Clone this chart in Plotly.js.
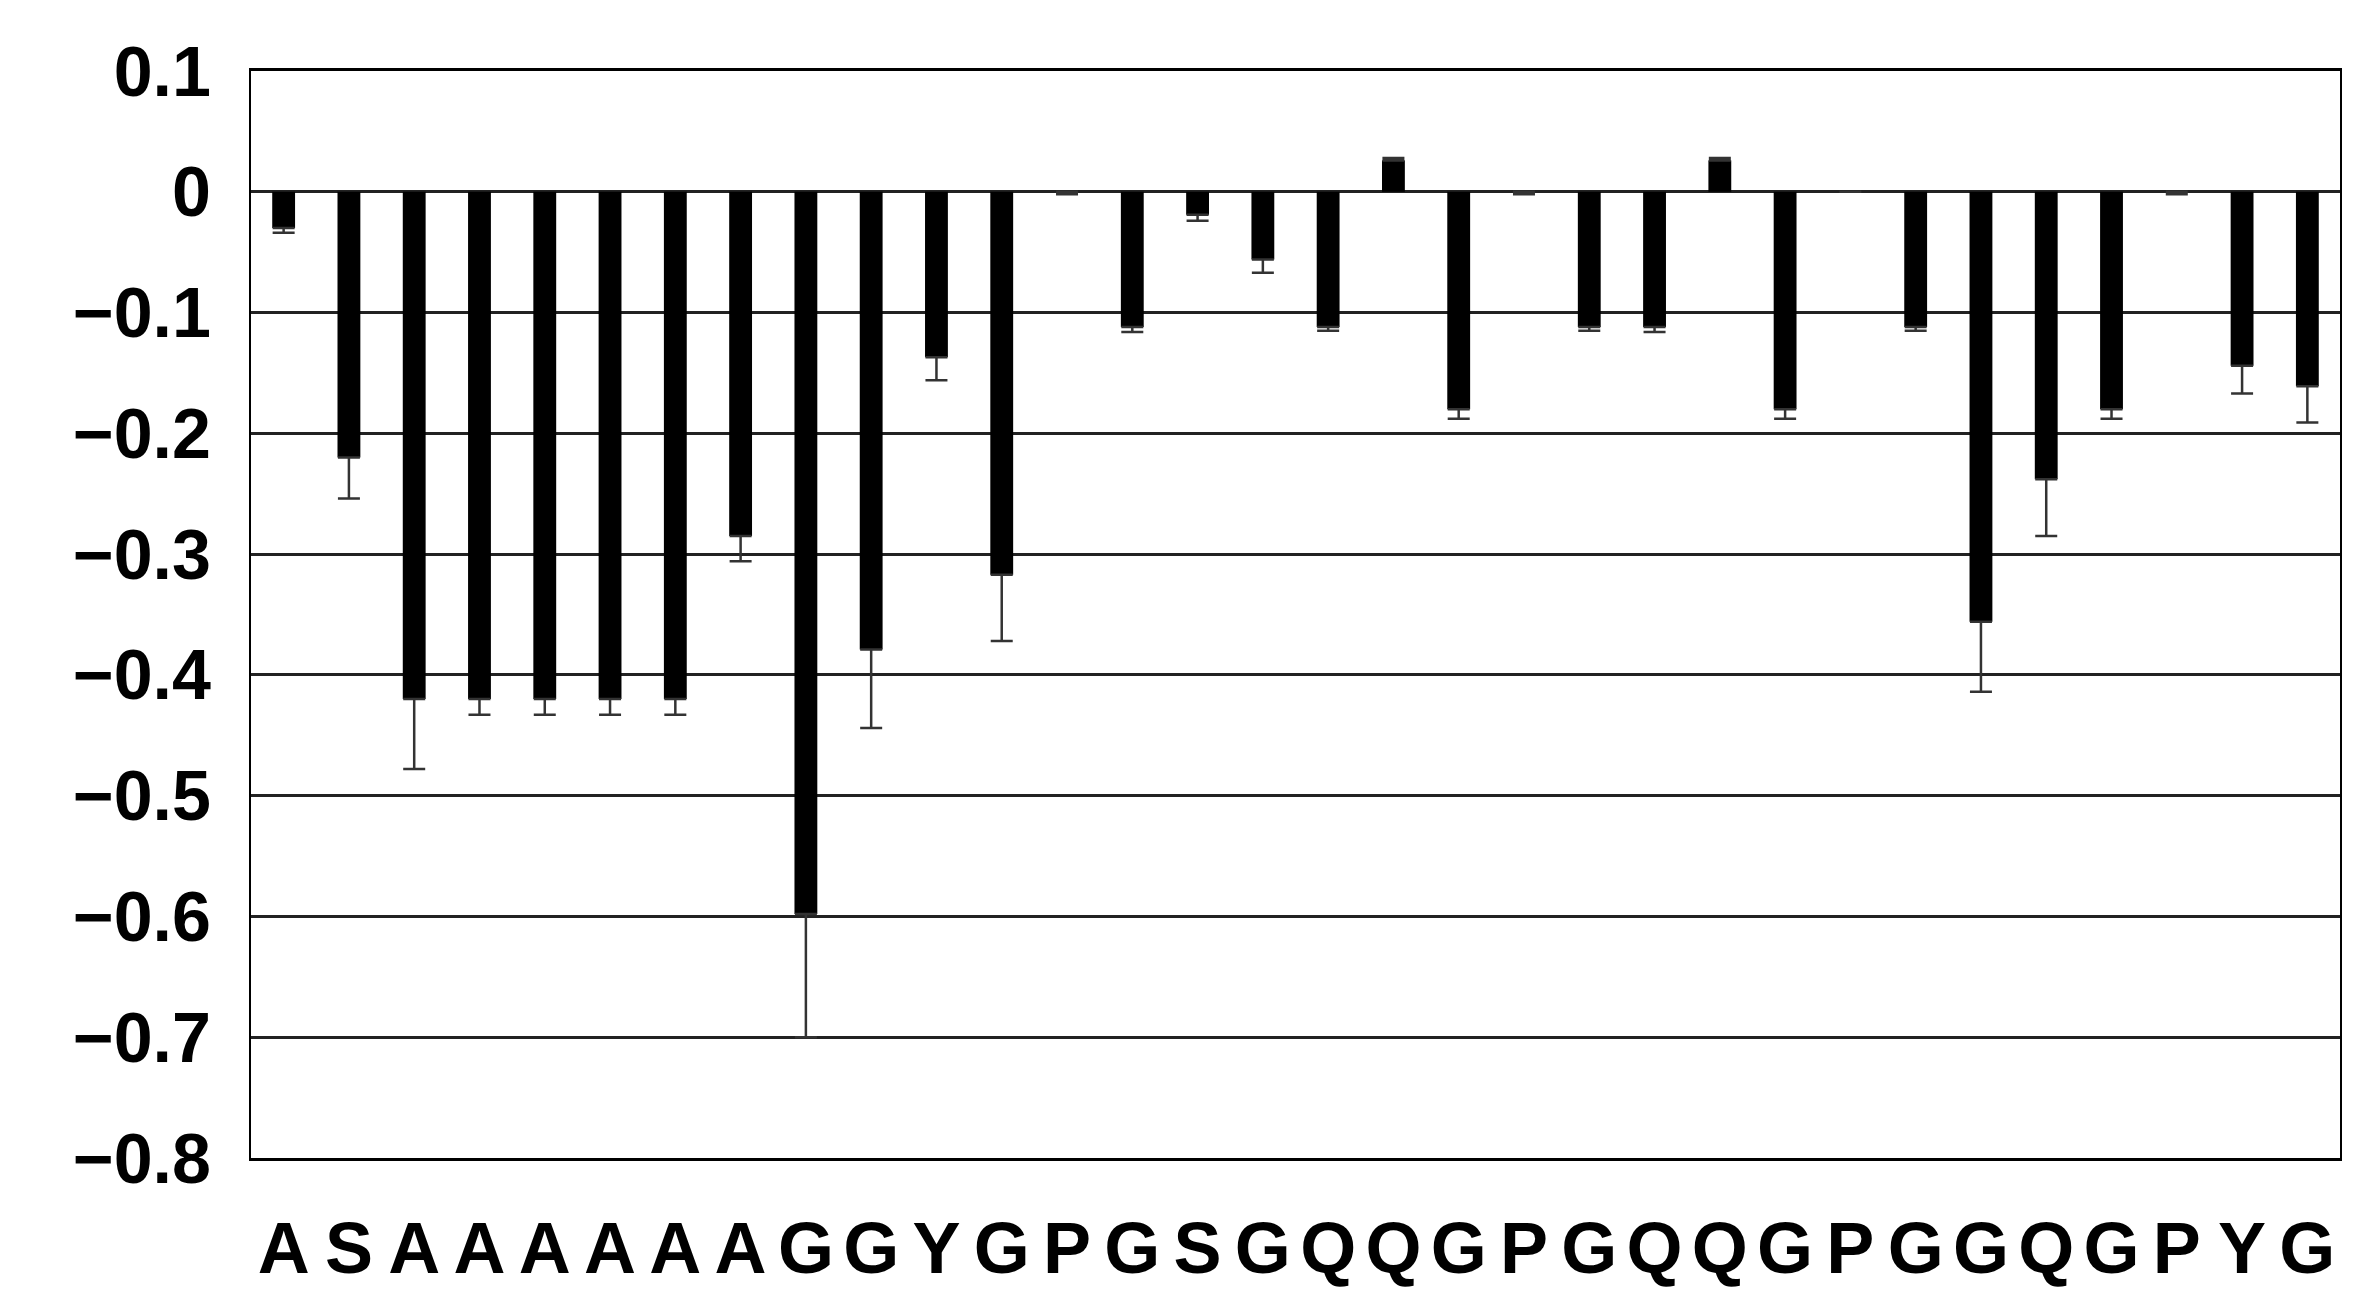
<!DOCTYPE html>
<html>
<head>
<meta charset="utf-8">
<script src="https://cdn.plot.ly/plotly-3.0.1.min.js"></script>
<style>
  html, body { margin: 0; padding: 0; background: #fff; }
  #plot { width: 2374px; height: 1305px; }
</style>
</head>
<body>
<div id="plot"></div>
<script>
// residue sequence along the x axis
const residues = ["A","S","A","A","A","A","A","A","G","G","Y","G","P","G","S","G",
                  "Q","Q","G","P","G","Q","Q","G","P","G","G","Q","G","P","Y","G"];

// mean value per residue
const values = [-0.030, -0.220, -0.420, -0.420, -0.420, -0.420, -0.420, -0.285,
                -0.598, -0.379, -0.137, -0.317, 0.000, -0.112, -0.019, -0.056,
                -0.112, 0.026, -0.180, 0.000, -0.112, -0.112, 0.026, -0.180,
                0.000, -0.112, -0.356, -0.238, -0.180, 0.000, -0.144, -0.161];

// error bar length per residue
const errors = [0.004, 0.034, 0.058, 0.013, 0.013, 0.013, 0.013, 0.021,
                0.102, 0.065, 0.019, 0.055, 0.002, 0.004, 0.005, 0.011,
                0.003, 0.002, 0.008, 0.002, 0.003, 0.004, 0.002, 0.008,
                0, 0.003, 0.058, 0.047, 0.008, 0.002, 0.023, 0.030];

const xs = residues.map((r, i) => i);
// error bars point away from zero
const errPlus = values.map((v, i) => v > 0 ? errors[i] : 0);
const errMinus = values.map((v, i) => v > 0 ? 0 : errors[i]);

const labelFont = { family: 'Arial, "Liberation Sans", sans-serif', size: 72, color: "#000", weight: "bold" };

var bars = {
  x: xs,
  y: values,
  type: "bar",
  marker: { color: "#000", line: { width: 0 } },
  error_y: {
    type: "data",
    symmetric: false,
    array: errPlus,
    arrayminus: errMinus,
    color: "#333",
    thickness: 2.5,
    width: 11,
  },
  hoverinfo: "none",
};

var layout = {
  width: 2374,
  height: 1305,
  margin: { l: 251, r: 34, t: 71, b: 147 },
  paper_bgcolor: "#fff",
  plot_bgcolor: "#fff",
  showlegend: false,
  bargap: 0.65,
  xaxis: {
    range: [-0.5, residues.length - 0.5],
    tickmode: "array",
    tickvals: xs,
    ticktext: residues,
    tickfont: labelFont,
    ticks: "",
    ticklabelstandoff: 26,
    showgrid: false,
    zeroline: false,
    showline: true,
    linecolor: "#000",
    linewidth: 3,
    mirror: true,
  },
  yaxis: {
    range: [-0.8, 0.1],
    tick0: 0,
    dtick: 0.1,
    tickfont: { family: labelFont.family, size: 70, color: "#000", weight: "bold" },
    ticks: "",
    ticklabelstandoff: 24,
    showgrid: true,
    gridcolor: "#222",
    gridwidth: 3,
    zeroline: true,
    zerolinecolor: "#222",
    zerolinewidth: 3,
    showline: true,
    linecolor: "#000",
    linewidth: 2,
    mirror: true,
  },
};

Plotly.newPlot("plot", [bars], layout, { staticPlot: true });
</script>
</body>
</html>
